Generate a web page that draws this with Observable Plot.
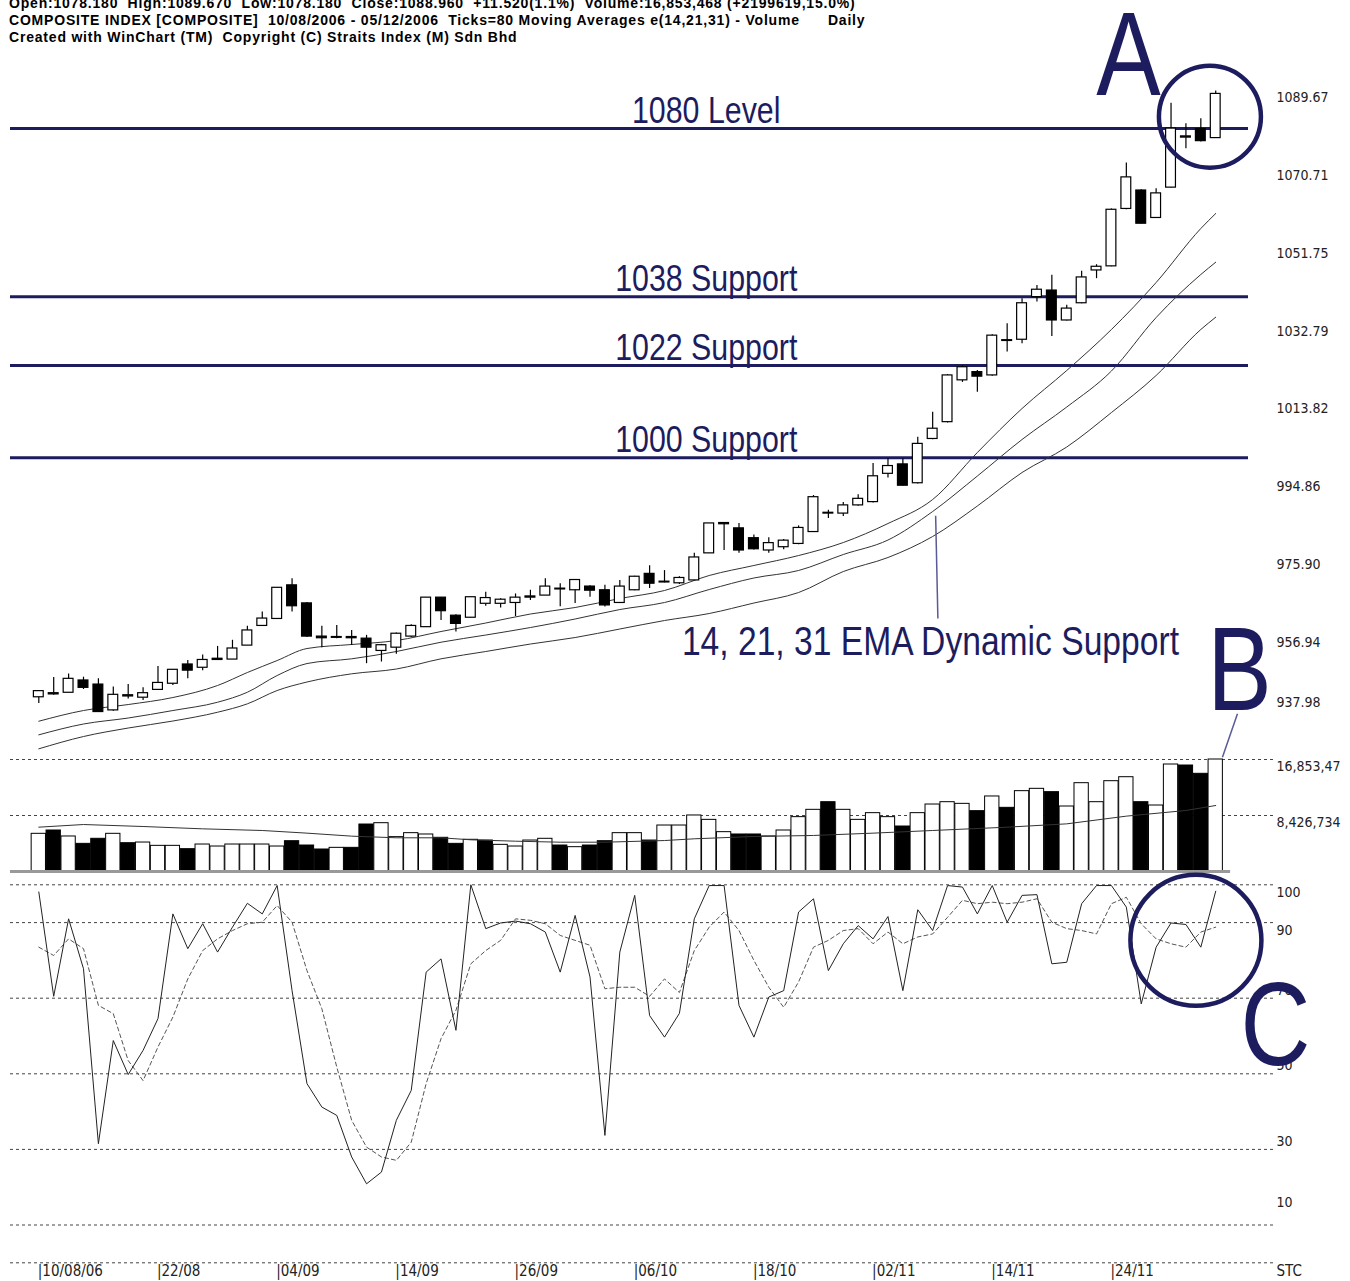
<!DOCTYPE html>
<html>
<head>
<meta charset="utf-8">
<script src="https://cdn.jsdelivr.net/npm/d3@7"></script>
<script src="https://cdn.jsdelivr.net/npm/@observablehq/plot@0.6"></script>
<style>
  body { margin: 0; background: #fff; }
  #wrap { position: relative; width: 1350px; height: 1281px; overflow: hidden; background: #fff; }
  #hdr { position: absolute; left: 9px; top: -5px; z-index: 5; color: #000;
         font: bold 14px "Liberation Sans Narrow", "Arial Narrow", sans-serif;
         letter-spacing: 0.8px; line-height: 17px; white-space: pre; }
  .panel { position: absolute; left: 0; }
</style>
</head>
<body>
<div id="wrap">
  <div id="hdr"></div>
</div>
<script>
// ---------------- DATA ----------------
const headerLines = [
  "Open:1078.180  High:1089.670  Low:1078.180  Close:1088.960  +11.520(1.1%)  Volume:16,853,468 (+2199619,15.0%)",
  "COMPOSITE INDEX [COMPOSITE]  10/08/2006 - 05/12/2006  Ticks=80 Moving Averages e(14,21,31) - Volume      Daily",
  "Created with WinChart (TM)  Copyright (C) Straits Index (M) Sdn Bhd"
];

const dateLabels = ["10/08/06","22/08","04/09","14/09","26/09","06/10","18/10","02/11","14/11","24/11"];
const dateIdx    = [0, 8, 16, 24, 32, 40, 48, 56, 64, 72];

const open  = [941.8,942.5,942.9,945.9,944.9,938.6,942.0,941.7,943.6,945.1,949.8,949.0,951.2,951.0,954.4,959.2,960.9,969.1,964.7,956.6,
               956.5,956.5,956.1,953.1,953.9,956.6,958.9,966.1,961.7,961.2,964.6,964.6,964.8,966.1,966.6,968.1,967.9,968.8,967.9,964.8,
               967.9,971.9,970.0,969.6,970.3,976.9,984.0,983.0,980.6,977.6,978.4,979.2,982.1,986.6,986.6,988.6,989.4,996.3,998.6,994.0,
               1004.8,1008.9,1019.1,1021.1,1020.3,1028.7,1029.0,1039.4,1041.0,1033.7,1037.9,1045.9,1046.9,1060.9,1065.4,1058.7,1066.1,1078.3,1080.4,1078.18];
const high  = [943.4,946.6,947.5,946.7,946.3,944.3,944.9,944.1,949.3,948.5,950.8,952.1,954.2,955.7,959.1,962.6,968.5,970.7,964.9,959.1,
               959.3,958.1,956.9,954.7,957.5,959.5,966.1,966.1,961.9,966.2,967.4,965.8,967.0,967.9,970.7,969.5,970.5,969.0,969.1,970.3,
               971.3,973.9,972.7,971.2,976.9,984.2,984.4,984.2,981.4,980.7,980.3,983.6,991.0,987.4,989.3,991.2,998.8,1000.0,1000.0,1005.2,
               1011.3,1020.5,1022.7,1021.5,1030.2,1032.9,1039.0,1042.2,1044.7,1037.4,1045.7,1047.3,1060.9,1072.1,1065.6,1065.8,1086.7,1081.7,1082.9,1089.67];
const low   = [940.3,942.3,942.9,943.7,938.2,938.4,941.4,941.0,943.6,944.7,946.3,948.3,950.8,951.0,954.4,959.2,960.9,962.6,956.4,953.9,
               956.1,954.4,950.0,950.4,952.3,956.4,958.9,960.5,957.7,961.2,964.0,963.6,961.5,965.4,966.6,963.9,964.7,966.2,963.8,964.8,
               967.8,968.3,969.7,969.3,970.3,976.9,977.6,976.9,977.7,976.9,977.8,979.0,982.0,985.4,985.9,988.4,989.2,995.3,993.3,993.8,
               1004.6,1008.7,1018.6,1016.2,1020.1,1026.0,1028.0,1038.2,1029.8,1033.6,1037.8,1043.9,1046.8,1060.7,1057.2,1058.6,1066.0,1075.6,1077.2,1078.18];
const close = [943.3,942.8,946.3,944.1,938.2,942.4,942.3,942.8,945.3,948.5,948.3,950.9,950.9,953.7,958.1,961.0,968.5,964.0,956.6,956.2,
               956.3,956.2,953.9,954.5,957.3,959.2,966.1,962.8,959.7,966.2,966.0,965.6,966.1,966.4,968.8,968.3,970.4,967.8,964.2,968.8,
               971.2,969.5,969.8,970.9,975.9,984.2,984.3,977.6,977.9,979.4,980.0,983.1,990.6,986.8,988.6,990.2,995.7,998.2,993.4,1003.6,
               1007.3,1020.3,1022.3,1020.0,1030.0,1028.9,1037.9,1041.2,1033.7,1036.6,1044.2,1046.8,1060.7,1068.6,1057.3,1064.7,1080.5,1078.6,1077.44,1088.96];

const volume = [5670000,6170000,5270000,4160000,4920000,5670000,4260000,4360000,3860000,3860000,
                3360000,4060000,3760000,4060000,4060000,4060000,3760000,4560000,3910000,3310000,
                3560000,3560000,7070000,7270000,5170000,5770000,5570000,5070000,4160000,4770000,
                4660000,4010000,3760000,4660000,4920000,3910000,3660000,3910000,4560000,5770000,
                5770000,4660000,6920000,6920000,8430000,7770000,5920000,5570000,5570000,5270000,
                6170000,8180000,9280000,10430000,9280000,7770000,8780000,8180000,6770000,8780000,
                10080000,10430000,10180000,9080000,11290000,9580000,12090000,12440000,11940000,9780000,
                13290000,10430000,13590000,14190000,10430000,9930000,16100000,15950000,14700000,16853468];
const volDownIdx = [1,3,4,6,10,17,18,19,21,22,27,28,30,35,37,38,41,47,48,53,58,63,65,68,74,77,78];

const volMaIdx = [0,3,7,11,15,18,21,24,27,29,32,35,38,42,44,48,52,56,60,65,69,73,77,79];
const volMa    = [6670000,7070000,6770000,6420000,6170000,5770000,5320000,5070000,5070000,4770000,4560000,4410000,
                  4410000,4660000,4920000,5270000,5420000,5770000,6170000,6670000,7170000,8330000,9180000,9930000];

const emaIdx = [0,3,6,9,12,14,16,18,21,24,27,30,33,36,39,42,45,48,51,54,57,60,63,66,69,72,75,78,79];
const ema14 = [935.96,938.57,940.03,941.74,944.67,947.84,950.76,953.69,954.67,955.64,957.84,959.91,962.11,963.69,965.89,
               967.84,971.50,973.94,976.37,979.54,984.18,990.03,1001.50,1012.23,1021.50,1031.50,1042.96,1056.13,1059.79];
const ema21 = [932.64,935.28,936.74,938.57,940.59,943.03,947.11,950.03,951.18,952.96,955.23,956.98,958.81,960.89,963.20,
               964.91,968.08,970.89,972.72,976.62,980.15,987.11,995.76,1004.67,1012.59,1021.37,1034.42,1044.91,1047.91];
const ema31 = [929.23,932.23,934.30,936.01,938.15,940.20,943.45,945.52,947.52,948.69,951.18,952.96,954.79,956.37,958.45,
               960.52,962.23,964.79,967.35,972.47,975.89,981.01,988.45,996.62,1002.84,1011.25,1020.28,1031.50,1034.50];

const stochK = [98.1,70.5,91.0,77.8,31.5,58.8,49.8,56.2,64.6,92.3,83.1,89.7,82.2,88.8,95.1,92.3,99.8,72.0,47.4,41.2,
                39.0,28.0,20.9,24.0,37.7,45.6,76.9,80.4,61.5,100,88.4,89.9,90.4,89.7,87.5,76.9,91.9,75.6,33.7,82.2,
                97.2,65.4,59.7,66.0,91.0,99.8,99.8,68.1,59.7,70.3,72.0,92.8,96.3,77.3,84.4,89.2,85.7,91.6,72.0,93.4,
                87.9,99.8,99.4,92.3,99.8,90.1,97.2,97.4,79.1,79.5,95.0,99.8,99.8,94.1,68.5,83.5,89.9,89.5,83.5,98.3];
const stochD = [83.5,81.3,85.7,83.1,68.1,65.9,53.5,48.2,57.1,65.0,75.1,82.6,85.7,87.9,89.7,90.1,94.5,90.1,77.3,67.2,
                51.8,37.7,30.6,28.0,27.1,31.9,47.4,59.3,66.8,79.1,82.6,85.3,91.0,90.6,89.7,86.6,85.3,84.0,72.5,72.9,
                72.9,70.5,75.1,71.5,82.6,88.8,92.8,87.9,80.0,72.9,67.6,74.3,83.5,85.3,87.9,88.4,84.4,87.5,84.4,86.2,
                87.0,91.4,95.9,95.0,95.4,95.0,95.4,96.3,90.1,88.4,87.9,87.0,95.0,96.7,89.7,85.7,84.4,83.5,87.5,88.8];

const levels      = [1080.5, 1039.5, 1022.7, 1000.2];
const levelLabels = ["1080 Level", "1038 Support", "1022 Support", "1000 Support"];
const priceTicks  = [1089.67, 1070.71, 1051.75, 1032.79, 1013.82, 994.86, 975.90, 956.94, 937.98];
const volTicks    = [16853468, 8426734];
const volTickLabels = ["16,853,47", "8,426,734"];
const stochGrid   = [100, 90, 70, 50, 30, 10, 0];

// annotation anchors (candle index, value)
const noteA    = {text: "A", i: 73.14, v: 1088.6};
const noteB    = {text: "B", i: 80.6,  v: 938.6};
const noteC    = {text: "C", i: 83.0,  v: 52.2};
const noteEMA  = {text: "14, 21, 31 EMA Dynamic Support", i: 59.85, v: 955.2};
const emaPointer = {i1: 60.2, v1: 986.1, i2: 60.35, v2: 961.0};
const bPointer   = {i1: 80.46, v1: 937.8, i2: 79.45, v2: 927.2};
const circleA  = {i: 78.61, v: 1083.4};
const circleC  = {i: 77.67, v: 85.3};

// ---------------- CHART ----------------
const NAVY = "#1c1c5e";
const LABEL_FONT = '"DejaVu Sans Condensed", "Liberation Sans Narrow", sans-serif';
const NOTE_FONT = '"Liberation Sans", Arial, sans-serif';
const xDomain = [-1.9, 81.2];
const xEnd = 82.9;

document.getElementById("hdr").textContent = headerLines.join("\n");

const candles = d3.range(80).map(i => ({i, o: open[i], h: high[i], l: low[i], c: close[i]}));
const vols = d3.range(80).map(i => ({i, v: volume[i], down: volDownIdx.includes(i)}));
const emaSeries = [["14", ema14], ["21", ema21], ["31", ema31]].flatMap(([k, arr]) =>
  emaIdx.map((i, j) => ({k, i, v: arr[j]})));
const volMaPts = volMaIdx.map((i, j) => ({i, v: volMa[j]}));
const kPts = stochK.map((v, i) => ({i, v}));
const dPts = stochD.map((v, i) => ({i, v}));

const common = {
  width: 1350, marginLeft: 10, marginRight: 102,
  x: {domain: xDomain, axis: null},
  style: {background: "transparent", overflow: "visible", fontFamily: LABEL_FONT}
};
const tickText = {fontSize: 14, fill: "#222"};

const price = Plot.plot({
  ...common, height: 755, marginTop: 0, marginBottom: 0,
  y: {domain: [927.6, 1111.74], axis: null},
  marks: [
    Plot.ruleY(levels, {stroke: NAVY, strokeWidth: 3}),
    Plot.line(emaSeries, {x: "i", y: "v", z: "k", stroke: "#333", strokeWidth: 1, curve: "monotone-x"}),
    Plot.ruleX(candles, {x: "i", y1: "l", y2: "h", stroke: "#000", strokeWidth: 1.2}),
    Plot.rect(candles, {
      x1: d => d.i - 0.33, x2: d => d.i + 0.33,
      y1: d => Math.min(d.o, d.c), y2: d => Math.max(d.o, d.c),
      fill: d => d.c >= d.o ? "#fff" : "#000", stroke: "#000", strokeWidth: 1.2
    }),
    Plot.text(levels, {x: 44.8, y: d => d, text: (d, j) => levelLabels[j], lineAnchor: "bottom", dy: -6,
      fontSize: 37, fill: NAVY, fontFamily: NOTE_FONT}),
    Plot.text([noteEMA], {x: "i", y: "v", text: "text", fontSize: 41, fill: NAVY, fontFamily: NOTE_FONT}),
    Plot.link([emaPointer], {x1: "i1", y1: "v1", x2: "i2", y2: "v2", stroke: "#5a5a96", strokeWidth: 1.5}),
    Plot.link([bPointer], {x1: "i1", y1: "v1", x2: "i2", y2: "v2", stroke: "#5a5a96", strokeWidth: 1.5}),
    Plot.text([noteA, noteB], {x: "i", y: "v", text: "text", lineAnchor: "bottom", fontSize: 118, fill: NAVY, fontFamily: NOTE_FONT}),
    Plot.dot([circleA], {x: "i", y: "v", r: 51, stroke: NAVY, strokeWidth: 4.5, fill: "none"}),
    Plot.axisY(priceTicks.slice(0, 8), {anchor: "right", label: null, tickSize: 0, tickPadding: 28, dy: 7,
      tickFormat: d => d.toFixed(2), ...tickText}),
    Plot.axisY(priceTicks.slice(8), {anchor: "right", label: null, tickSize: 0, tickPadding: 28, dy: -10,
      tickFormat: d => d.toFixed(2), ...tickText})
  ]
});

const vol = Plot.plot({
  ...common, height: 117, marginTop: 4, marginBottom: 1,
  y: {domain: [0, 16853468], axis: null},
  marks: [
    Plot.ruleY(volTicks, {x1: xDomain[0], x2: xEnd, stroke: "#444", strokeWidth: 1, strokeDasharray: "3,3"}),
    Plot.rectY(vols, {x1: d => d.i - 0.48, x2: d => d.i + 0.48, y: "v",
      fill: d => d.down ? "#000" : "#fff", stroke: "#000", strokeWidth: 1}),
    Plot.line(volMaPts, {x: "i", y: "v", stroke: "#333", strokeWidth: 1}),
    Plot.ruleY([0], {x1: xDomain[0], x2: 80, stroke: "#999", strokeWidth: 3}),
    Plot.text(volTicks, {x: 83.08, y: d => d, text: (d, j) => volTickLabels[j], textAnchor: "start", dy: 7, ...tickText})
  ]
});

const stoch = Plot.plot({
  ...common, height: 409, marginTop: 12.3, marginBottom: 18.7,
  y: {domain: [0, 100], axis: null},
  marks: [
    Plot.ruleY(stochGrid, {x1: xDomain[0], x2: xEnd, stroke: "#444", strokeWidth: 1, strokeDasharray: "3,3"}),
    Plot.line(dPts, {x: "i", y: "v", stroke: "#555", strokeWidth: 1, strokeDasharray: "4,3"}),
    Plot.line(kPts, {x: "i", y: "v", stroke: "#222", strokeWidth: 1}),
    Plot.axisY([100, 90], {anchor: "right", label: null, tickSize: 0, tickPadding: 28, dy: 8, ...tickText}),
    Plot.axisY([70, 50, 30], {anchor: "right", label: null, tickSize: 0, tickPadding: 28, dy: -8, ...tickText}),
    Plot.axisY([10], {anchor: "right", label: null, tickSize: 0, tickPadding: 28, dy: -22, ...tickText}),
    Plot.dot([circleC], {x: "i", y: "v", r: 65.5, stroke: NAVY, strokeWidth: 4.5, fill: "none"}),
    Plot.text([noteC], {x: "i", y: "v", text: "text", lineAnchor: "bottom", fontSize: 118, fill: NAVY, fontFamily: NOTE_FONT}),
    Plot.text(dateIdx, {x: d => d, y: 0, text: (d, j) => "|" + dateLabels[j], textAnchor: "start", dx: -1, dy: 8,
      fontSize: 15, fill: "#222"}),
    Plot.text(["STC"], {x: 83.08, y: 0, text: d => d, textAnchor: "start", dy: 8, fontSize: 15, fill: "#222"})
  ]
});

const wrap = document.getElementById("wrap");
[[price, 0], [vol, 755], [stoch, 872]].forEach(([svg, top]) => {
  svg.classList.add("panel");
  svg.style.top = top + "px";
  wrap.appendChild(svg);
});

// condense the large annotation lettering to a narrow face (Arial Narrow proportions)
[price, vol, stoch].forEach(svg => {
  svg.querySelectorAll("text").forEach(t => {
    const fs = parseFloat(getComputedStyle(t).fontSize);
    if (fs >= 30) {
      const w = t.getComputedTextLength();
      t.setAttribute("textLength", (w * 0.82).toFixed(1));
      t.setAttribute("lengthAdjust", "spacingAndGlyphs");
    }
  });
});
</script>
</body>
</html>
